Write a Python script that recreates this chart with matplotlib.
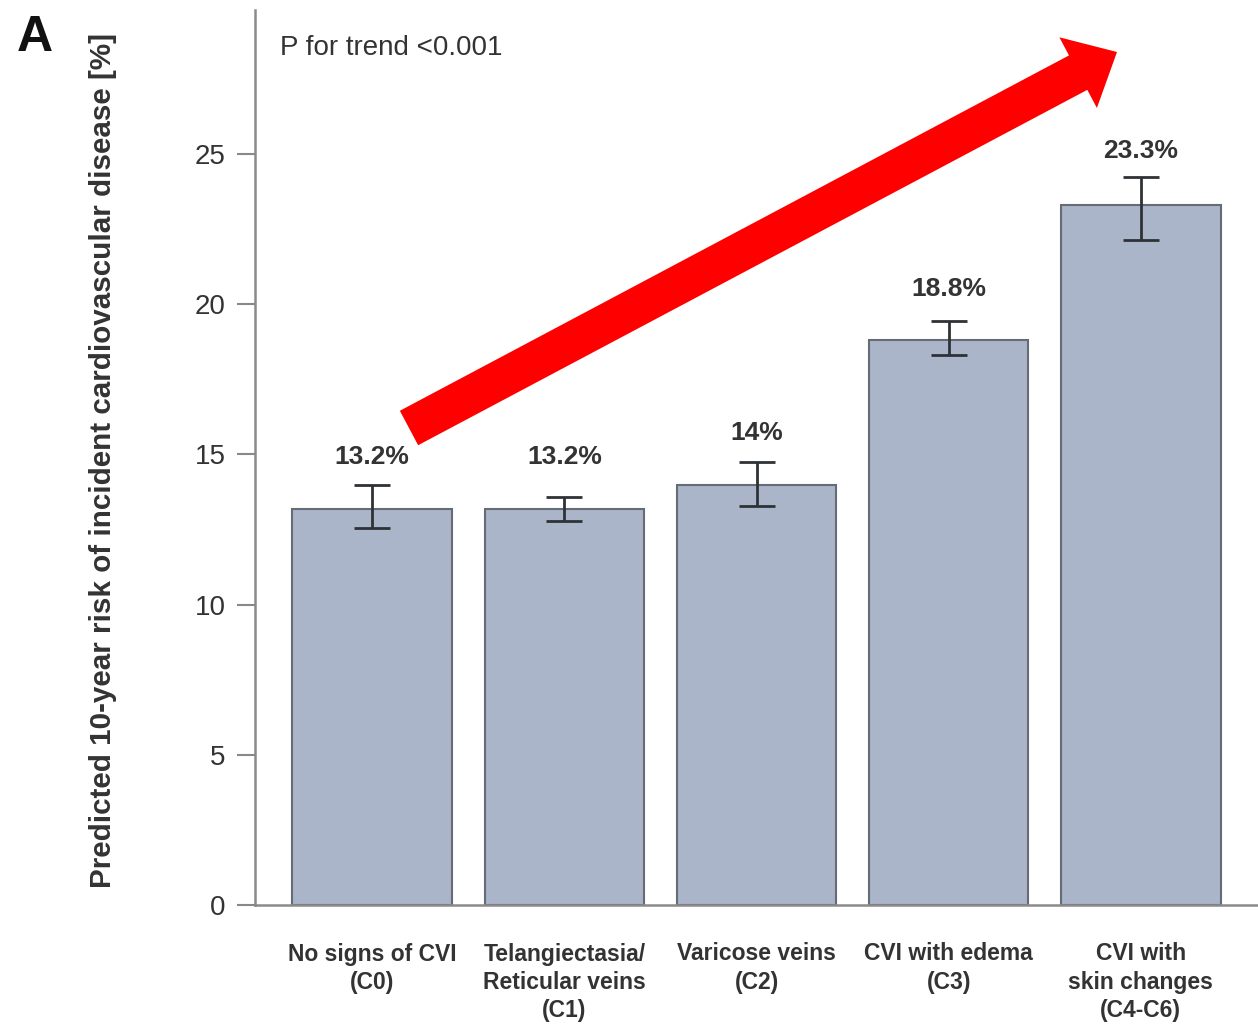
import matplotlib
matplotlib.use("Agg")
import matplotlib.pyplot as plt
from matplotlib.patches import FancyArrow
from matplotlib.transforms import IdentityTransform

# Predicted 10-year CVD risk by CEAP class
categories = [
    "No signs of CVI\n(C0)",
    "Telangiectasia/\nReticular veins\n(C1)",
    "Varicose veins\n(C2)",
    "CVI with edema\n(C3)",
    "CVI with\nskin changes\n(C4-C6)",
]
risk = [13.2, 13.2, 14.0, 18.8, 23.3]
ci_low = [12.55, 12.8, 13.3, 18.3, 22.15]
ci_high = [14.0, 13.6, 14.75, 19.45, 24.25]
value_labels = ["13.2%", "13.2%", "14%", "18.8%", "23.3%"]
yticks = [0, 5, 10, 15, 20, 25]

W, H, DPI = 1258, 1026, 100
fig = plt.figure(figsize=(W / DPI, H / DPI), dpi=DPI)
ax = fig.add_axes([255 / W, 121 / H, 1 - 255 / W, 895 / H])

txt = "#333333"
sans = ["Liberation Sans", "DejaVu Sans"]

x = list(range(len(risk)))
yerr = [[r - lo for r, lo in zip(risk, ci_low)],
        [hi - r for r, hi in zip(risk, ci_high)]]
ax.bar(x, risk, width=0.83, color="#abb5c9", edgecolor="#656c76", linewidth=1.5, zorder=2)
ax.errorbar(x, risk, yerr=yerr, fmt="none", ecolor="#2e3236", elinewidth=2,
            capsize=13, capthick=2, zorder=3)

for xi, r, hi, lab in zip(x, risk, ci_high, value_labels):
    ax.text(xi, max(hi + 0.85, r + 1.7), lab, ha="center", va="center",
            fontsize=19, fontweight="bold", color=txt, family=sans)

ax.set_xlim(-0.61, 4.61)
ax.set_ylim(0, 29.8)
ax.set_yticks(yticks)
ax.set_yticklabels([str(t) for t in yticks], fontsize=20, color=txt, family=sans)
ax.tick_params(axis="y", length=13, width=1.5, color="#888888", pad=8)
ax.set_xticks(x)
ax.set_xticklabels(categories, fontsize=16.5, fontweight="bold", color=txt,
                   family=sans, linespacing=1.3)
ax.tick_params(axis="x", length=0, pad=27)

for s in ("top", "right"):
    ax.spines[s].set_visible(False)
for s in ("left", "bottom"):
    ax.spines[s].set_color("#8a8a8a")
    ax.spines[s].set_linewidth(1.8)

ax.text(0.025, 0.957, "P for trend <0.001", transform=ax.transAxes, ha="left",
        va="center", fontsize=20, color=txt, family=sans)

fig.text(103 / W, 1 - 460 / H, "Predicted 10-year risk of incident cardiovascular disease [%]",
         rotation=90, ha="center", va="center", fontsize=21.3, fontweight="bold",
         color=txt, family=sans)
fig.text(35 / W, 1 - 38 / H, "A", ha="center", va="center", fontsize=36,
         fontweight="bold", color="#111111", family=sans)

# Red trend arrow, drawn in figure pixels
tail = (409, H - 428)
tip = (1117, H - 52)
fig.add_artist(FancyArrow(tail[0], tail[1], tip[0] - tail[0], tip[1] - tail[1],
                          width=39, head_width=80, head_length=44,
                          length_includes_head=True, color="#ff0000",
                          linewidth=0, transform=IdentityTransform(), zorder=5))

fig.savefig("out.png", dpi=DPI)
